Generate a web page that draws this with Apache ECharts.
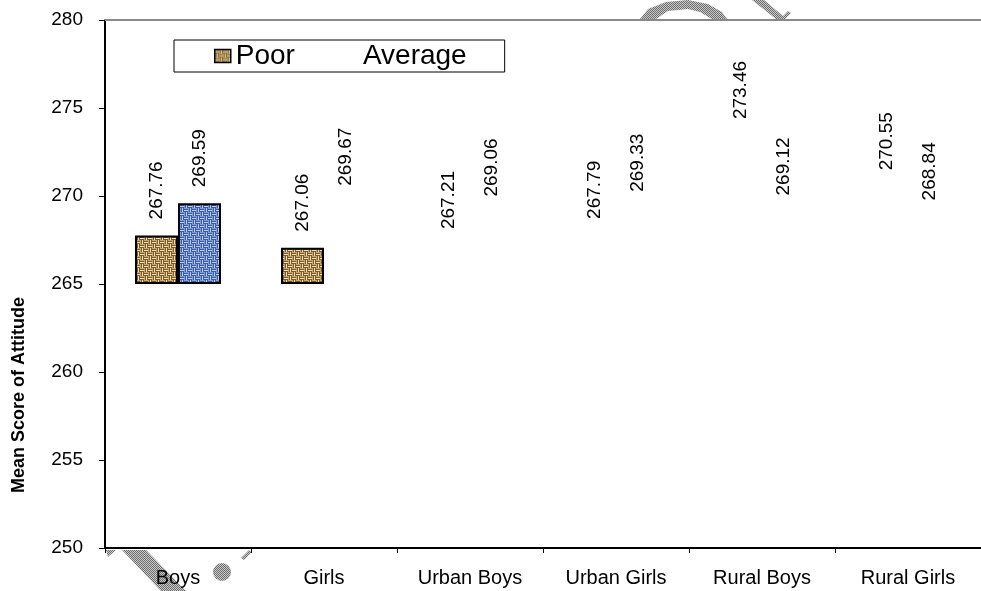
<!DOCTYPE html>
<html>
<head>
<meta charset="utf-8">
<script src="https://cdn.jsdelivr.net/npm/echarts@6/dist/echarts.min.js"></script>
<style>
html,body{margin:0;padding:0;background:#fff;}
#chart{width:981px;height:591px;}
</style>
</head>
<body>
<div id="chart"></div>
<script>
// ---- data ----
var categories = ['Boys', 'Girls', 'Urban Boys', 'Urban Girls', 'Rural Boys', 'Rural Girls'];
var poorValues = [267.76, 267.06, 267.21, 267.79, 273.46, 270.55];
var averageValues = [269.59, 269.67, 269.06, 269.33, 269.12, 268.84];
// which bars are visibly drawn in the reference
var poorDrawn = [true, true, false, false, false, false];
var averageDrawn = [true, false, false, false, false, false];
var barBase = 265;
var yTicks = [250, 255, 260, 265, 270, 275, 280];

function makeWeave(base, dark, light) {
  var c = document.createElement('canvas');
  c.width = 8; c.height = 8;
  var g = c.getContext('2d');
  g.fillStyle = base; g.fillRect(0, 0, 8, 8);
  g.fillStyle = dark;
  g.fillRect(0, 1, 4, 1); g.fillRect(0, 3, 4, 1);
  g.fillRect(4, 5, 4, 1); g.fillRect(4, 7, 4, 1);
  g.fillRect(5, 0, 1, 4); g.fillRect(7, 0, 1, 4);
  g.fillRect(1, 4, 1, 4); g.fillRect(3, 4, 1, 4);
  g.fillStyle = light;
  g.fillRect(0, 2, 4, 1); g.fillRect(4, 6, 4, 1);
  g.fillRect(6, 0, 1, 4); g.fillRect(2, 4, 1, 4);
  return c;
}
function makeDots() {
  var c = document.createElement('canvas');
  c.width = 2; c.height = 2;
  var g = c.getContext('2d');
  g.fillStyle = '#c8c8c8'; g.fillRect(0, 0, 2, 2);
  g.fillStyle = '#6e6e6e'; g.fillRect(0, 0, 1, 1); g.fillRect(1, 1, 1, 1);
  return c;
}
var poorFill = {image: makeWeave('#c6a86c', '#7a5c2c', '#efdfb2'), repeat: 'repeat'};
var avgFill = {image: makeWeave('#7c9de0', '#3a5aa6', '#bcd0f5'), repeat: 'repeat'};
var markFill = {image: makeDots(), repeat: 'repeat'};

function topData(values, drawn, fill) {
  return values.map(function (v, i) {
    return {
      value: +(v - barBase).toFixed(2),
      orig: v,
      itemStyle: drawn[i] ? {color: fill, borderColor: '#000', borderWidth: 2}
                          : {color: 'rgba(0,0,0,0)', borderWidth: 0}
    };
  });
}
function baseData(values) {
  return values.map(function () { return barBase; });
}

var FONT = 'Liberation Sans, Arial, sans-serif';
var labelCfg = {
  show: true, position: 'top', distance: 16, rotate: 90,
  align: 'left', verticalAlign: 'middle',
  color: '#000', fontSize: 19, fontFamily: FONT,
  formatter: function (p) { return p.data.orig.toFixed(2); }
};

var chart = echarts.init(document.getElementById('chart'), null, {renderer: 'canvas'});
chart.setOption({
  animation: false,
  backgroundColor: '#fff',
  grid: {left: 105, top: 20, right: -12, bottom: 43, containLabel: false},
  legend: {
    left: 174, top: 40,
    orient: 'horizontal',
    padding: [2, 38, 2, 40],
    itemGap: 47,
    itemWidth: 16, itemHeight: 13,
    borderColor: '#000', borderWidth: 1,
    backgroundColor: '#fff',
    textStyle: {fontSize: 28, fontFamily: FONT, color: '#000'},
    data: [
      {name: 'Poor', icon: 'rect', itemStyle: {color: poorFill, borderColor: '#000', borderWidth: 1.5}},
      {name: 'Average', icon: 'rect', itemStyle: {color: 'rgba(0,0,0,0)', borderWidth: 0}}
    ]
  },
  xAxis: [{
    type: 'category',
    data: categories,
    axisLine: {lineStyle: {color: '#000', width: 2}},
    axisTick: {show: true, length: 5, alignWithLabel: false, lineStyle: {color: '#000', width: 1}},
    axisLabel: {color: '#000', fontSize: 20, fontFamily: FONT, margin: 20},
    splitLine: {show: false}
  }, {
    type: 'category',
    position: 'top',
    data: categories,
    axisLine: {lineStyle: {color: '#8a8a8a', width: 2}},
    axisTick: {show: false},
    axisLabel: {show: false}
  }],
  yAxis: {
    type: 'value',
    min: yTicks[0], max: yTicks[yTicks.length - 1], interval: 5,
    axisLine: {show: true, lineStyle: {color: '#000', width: 2}},
    axisTick: {show: true, length: 6, lineStyle: {color: '#000', width: 1}},
    axisLabel: {color: '#000', fontSize: 19, fontFamily: FONT, margin: 22},
    splitLine: {show: false}
  },
  graphic: [
    {type: 'text', x: 19, y: 395, rotation: Math.PI / 2, z: 100,
     style: {text: 'Mean Score of Attitude', fill: '#000',
             font: 'bold 18px Liberation Sans, Arial, sans-serif',
             textAlign: 'center', textVerticalAlign: 'middle'}},
    // faint scanned watermark marks
    {type: 'polygon', z: -1, style: {fill: markFill},
     shape: {points: [[122, 550], [146, 550], [186, 591], [161, 591]]}},
    {type: 'polygon', z: -1, style: {fill: markFill},
     shape: {points: [[106, 550], [116, 550], [108, 557]]}},
    {type: 'polygon', z: -1, style: {fill: markFill},
     shape: {points: [[249, 550], [252, 552], [244, 560], [241, 558]]}},
    {type: 'circle', z: -1, style: {fill: markFill}, shape: {cx: 222, cy: 572, r: 9}},
    {type: 'polygon', z: -1, style: {fill: markFill},
     shape: {points: [[640, 19], [648, 9], [666, 2], [688, 0], [708, 4], [722, 12], [727, 19],
                      [712, 19], [700, 12], [688, 9], [668, 11], [656, 19]]}},
    {type: 'polygon', z: -1, style: {fill: markFill},
     shape: {points: [[752, 0], [764, 0], [783, 16], [788, 11], [791, 13], [785, 19], [776, 19]]}}
  ],
  series: [
    {name: 'PoorBase', type: 'bar', stack: 'poor', barWidth: 43, barGap: '0%', silent: true,
     itemStyle: {color: 'rgba(0,0,0,0)'}, data: baseData(poorValues)},
    {name: 'Poor', type: 'bar', stack: 'poor', barWidth: 43, barGap: '0%',
     itemStyle: {color: poorFill}, label: labelCfg, data: topData(poorValues, poorDrawn, poorFill)},
    {name: 'AverageBase', type: 'bar', stack: 'average', barWidth: 43, barGap: '0%', silent: true,
     itemStyle: {color: 'rgba(0,0,0,0)'}, data: baseData(averageValues)},
    {name: 'Average', type: 'bar', stack: 'average', barWidth: 43, barGap: '0%',
     itemStyle: {color: avgFill}, label: labelCfg, data: topData(averageValues, averageDrawn, avgFill)}
  ]
});
</script>
</body>
</html>
